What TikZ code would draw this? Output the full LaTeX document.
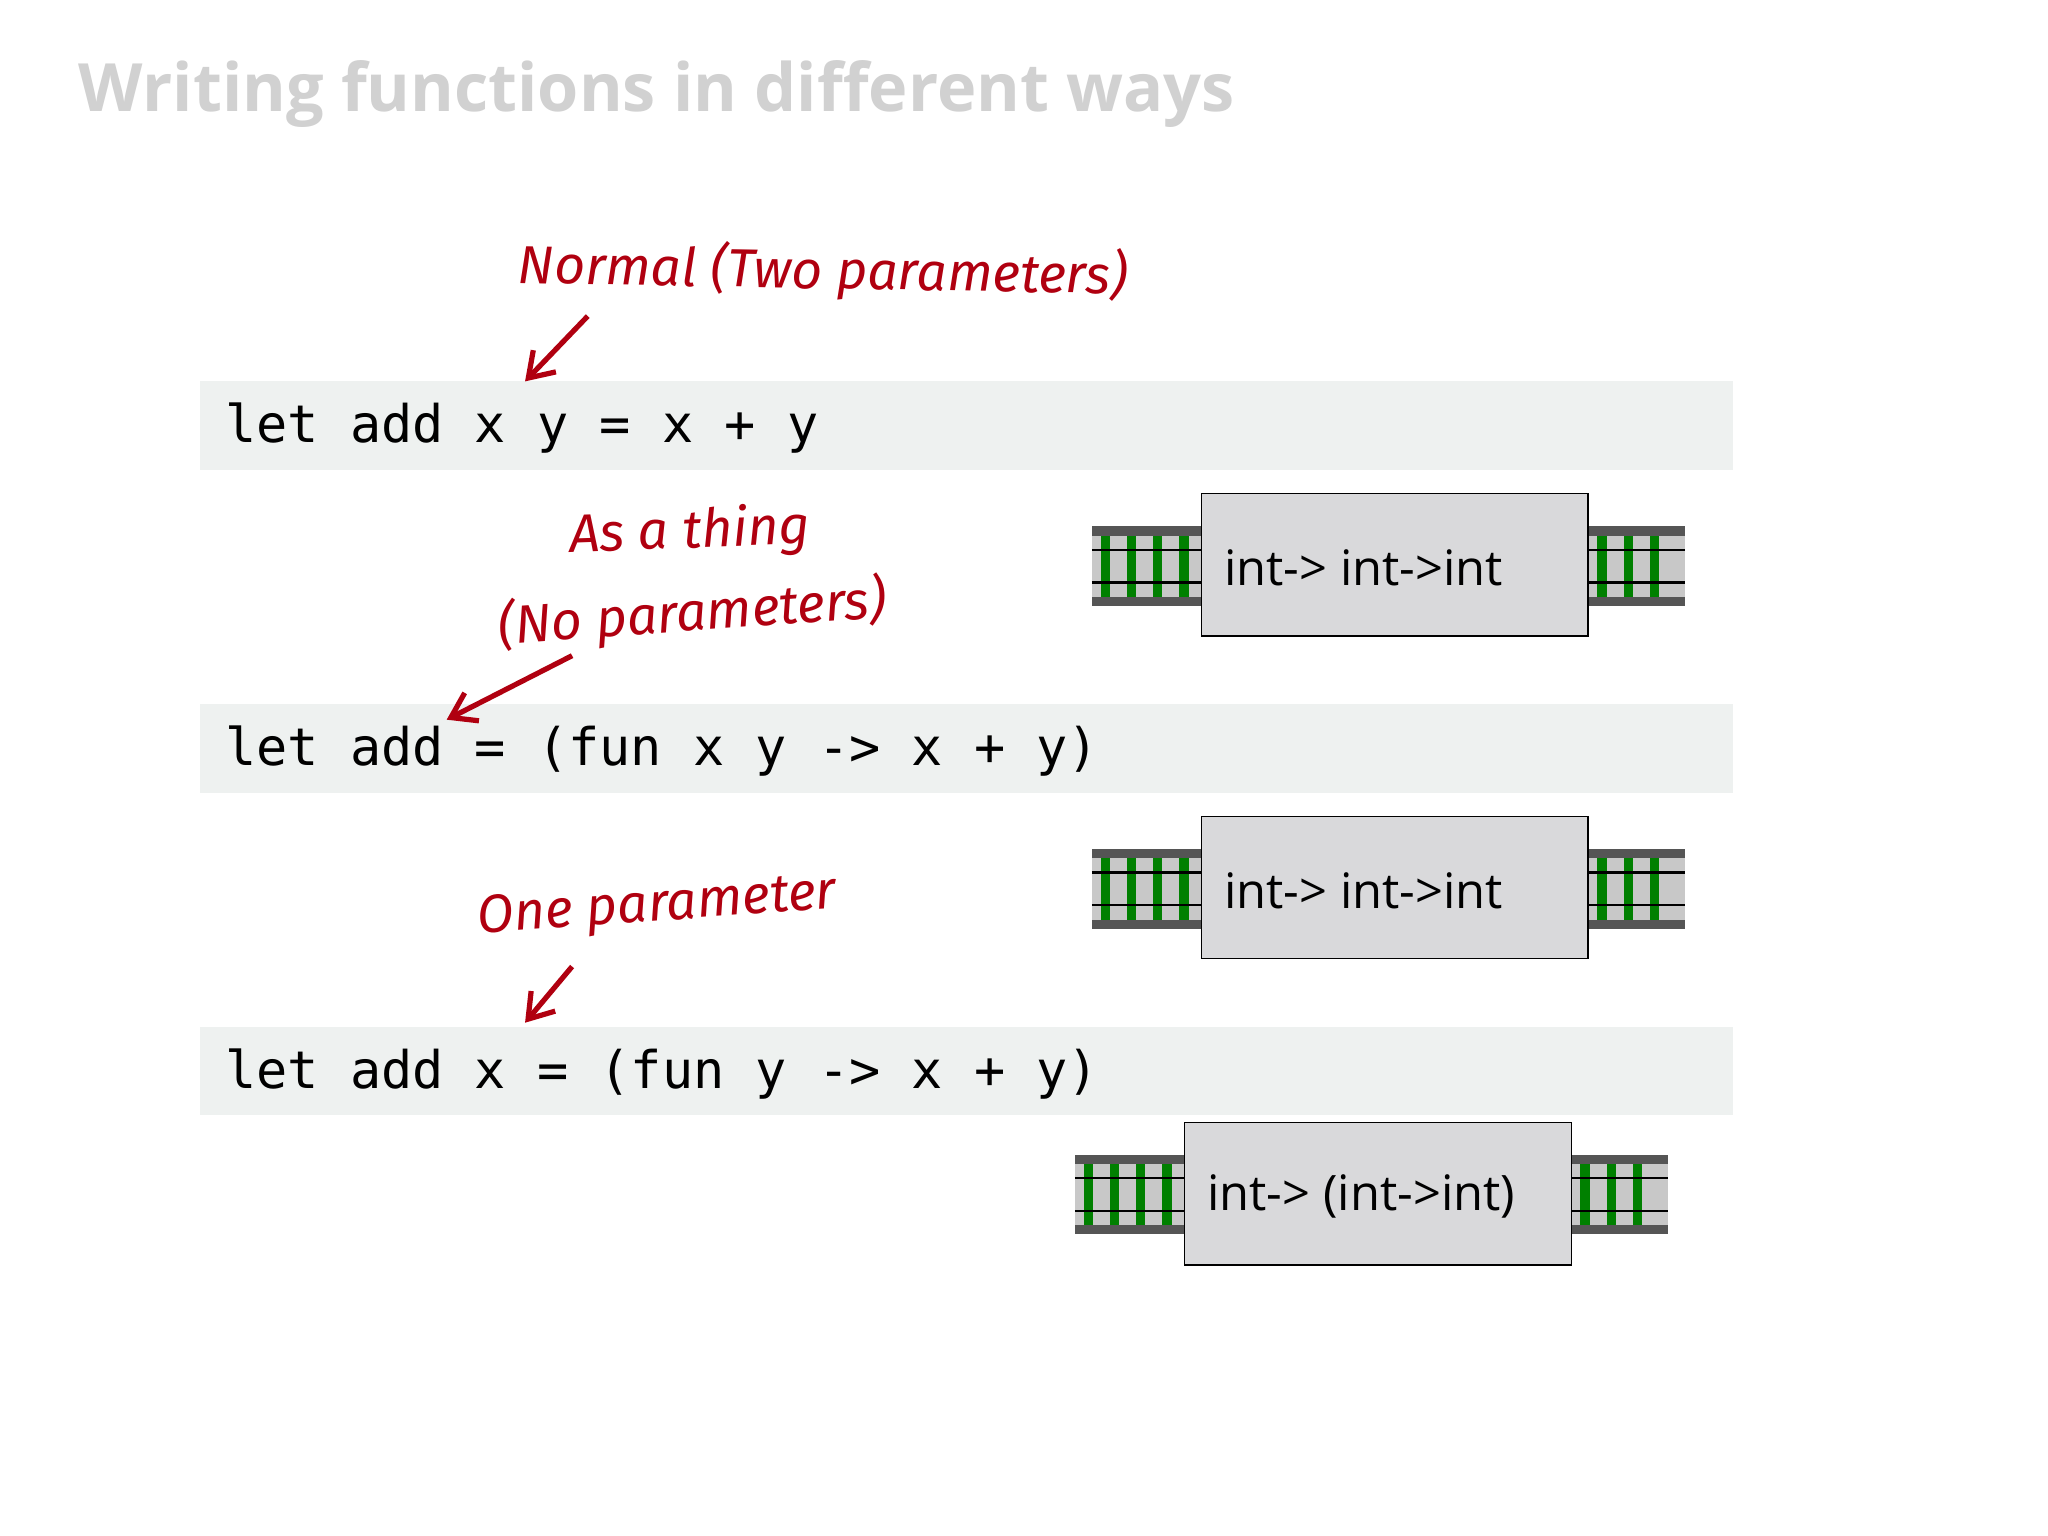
\documentclass[tikz,border=0pt]{standalone}
\usepackage{fontspec}
\setmainfont{Open Sans}
\newfontfamily\codefont{DejaVu Sans Mono}
\newfontfamily\handfont{Fira Sans}
\usetikzlibrary{arrows.meta}
\definecolor{band}{HTML}{EEF1F0}
\definecolor{boxgray}{HTML}{D9D9DB}
\definecolor{trackgray}{HTML}{C8C8C8}
\definecolor{raildark}{HTML}{555555}
\definecolor{tie}{HTML}{008000}
\definecolor{anno}{HTML}{B00010}
\tikzset{
  codeband/.style={fill=band,draw=none,minimum width=587pt,minimum height=34pt,inner sep=0pt},
  codetext/.style={anchor=west,font=\codefont\fontsize{19.85}{22}\selectfont,inner sep=0pt},
  typebox/.style={draw=black,line width=0.6pt,fill=boxgray,minimum width=148pt,minimum height=54.5pt,inner sep=0pt},
  typetext/.style={anchor=west,font=\fontsize{18.7}{22}\selectfont,inner sep=0pt},
  handtext/.style={text=anno,font=\handfont\itshape\fontsize{20.5}{24}\selectfont,inner sep=0pt},
  annoarrow/.style={draw=anno,line width=2pt,-{Straight Barb[length=9pt,width=12pt]}}
}
\newcommand{\track}[4]{% x0, y0 (top), length, nties
  \fill[trackgray] (#1,#2) rectangle ++(#3,61);
  \fill[raildark] (#1,#2) rectangle ++(#3,7);
  \fill[raildark] (#1,#2+54) rectangle ++(#3,7);
  \foreach \k in {1,...,#4} {\fill[tie] (#1+\k*20-13,#2+7) rectangle ++(7,47);}
  \draw[black,line width=0.8pt] (#1,#2+18) -- ++(#3,0);
  \draw[black,line width=0.8pt] (#1,#2+43) -- ++(#3,0);
}
\begin{document}
\begin{tikzpicture}[x=0.5pt,y=-0.5pt]
\useasboundingbox (0,0) rectangle (1568,1176);
\fill[white] (0,0) rectangle (1568,1176);
\node[anchor=base west,inner sep=0pt,text=black!18,font=\bfseries\fontsize{25.5}{30}\selectfont] (title) at (60,85) {Writing functions in different ways};

% code bands
\node[codeband] (b1) at (740,326) {};
\node[codeband] (b2) at (740,573) {};
\node[codeband] (b3) at (740,820) {};
\node[codetext] (c1) at (172,328) {let add x y = x + y};
\node[codetext] (c2) at (172,575) {let add = (fun x y -> x + y)};
\node[codetext] (c3) at (172,822) {let add x = (fun y -> x + y)};

% tracks and boxes
\track{836}{403}{84}{4}
\track{1216}{403}{74}{3}
\node[typebox] (t1) at (1068,432.5) {};
\node[typetext] (tt1) at (937,435) {int-> int->int};
\track{836}{650}{84}{4}
\track{1216}{650}{74}{3}
\node[typebox] (t2) at (1068,679.5) {};
\node[typetext] (tt2) at (937,682) {int-> int->int};
\track{823}{884}{84}{4}
\track{1203}{884}{74}{3}
\node[typebox] (t3) at (1055,914) {};
\node[typetext] (tt3) at (924,916) {int-> (int->int)};

% annotations
\node[handtext,rotate=-1] (a1) at (630,208) {Normal (Two parameters)};
\node[handtext,rotate=2] (a2) at (528,408) {As a thing};
\node[handtext,rotate=4] (a3) at (530,470) {(No parameters)};
\node[handtext,rotate=4] (a4) at (503,695) {One parameter};
\coordinate (p1) at (450,242); \coordinate (q1) at (402,292);
\coordinate (p2) at (438,502); \coordinate (q2) at (342,551);
\coordinate (p3) at (438,740); \coordinate (q3) at (402,783);
\draw[annoarrow] (p1) -- (q1);
\draw[annoarrow] (p2) -- (q2);
\draw[annoarrow] (p3) -- (q3);
\end{tikzpicture}
\end{document}
